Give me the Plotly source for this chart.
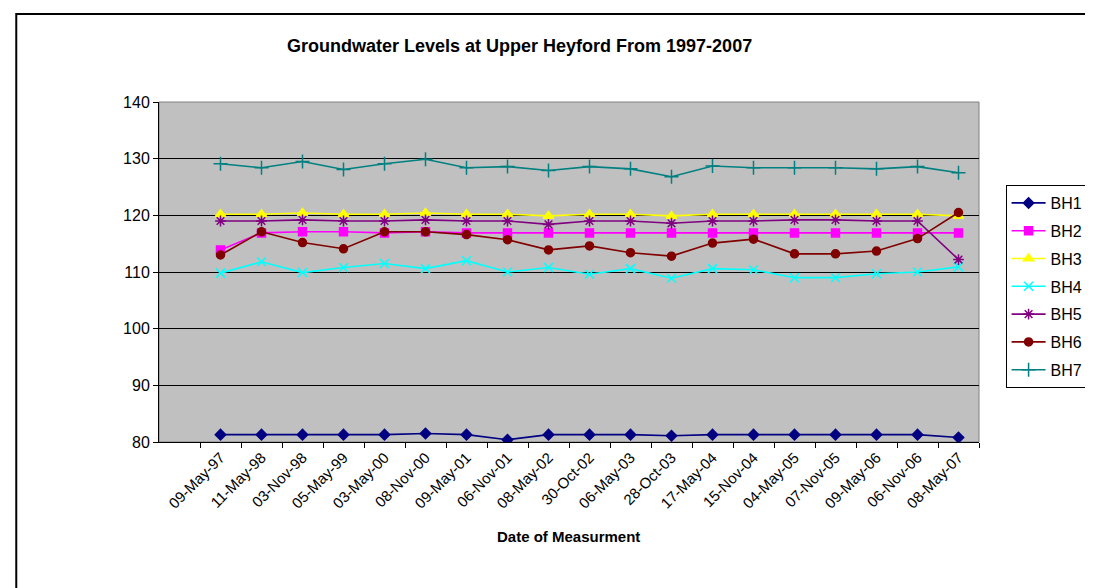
import plotly.graph_objects as go

dates = ["09-May-97", "11-May-98", "03-Nov-98", "05-May-99", "03-May-00", "08-Nov-00",
         "09-May-01", "06-Nov-01", "08-May-02", "30-Oct-02", "06-May-03", "28-Oct-03",
         "17-May-04", "15-Nov-04", "04-May-05", "07-Nov-05", "09-May-06", "06-Nov-06",
         "08-May-07"]

bh1 = [81.3, 81.3, 81.3, 81.3, 81.3, 81.5, 81.3, 80.4, 81.3, 81.3, 81.3, 81.1, 81.3,
       81.3, 81.3, 81.3, 81.3, 81.3, 80.8]
bh2 = [113.9, 116.9, 117.1, 117.1, 116.9, 117.1, 116.9, 116.9, 116.9, 116.9, 116.9, 116.9,
       116.9, 116.9, 116.9, 116.9, 116.9, 116.9, 116.9]
bh3 = [120.2, 120.2, 120.4, 120.2, 120.2, 120.4, 120.2, 120.2, 119.9, 120.2, 120.2, 119.9,
       120.2, 120.2, 120.2, 120.2, 120.2, 120.2, 119.9]
bh4 = [109.8, 111.8, 109.9, 110.8, 111.5, 110.6, 112.0, 110.0, 110.8, 109.6, 110.6, 108.9,
       110.6, 110.4, 109.0, 109.0, 109.7, 110.0, 110.9]
bh5 = [119.0, 119.0, 119.2, 119.0, 119.0, 119.2, 119.0, 119.0, 118.4, 119.0, 119.0, 118.6,
       119.0, 119.0, 119.2, 119.2, 119.0, 119.0, 112.2]
bh6 = [113.0, 117.1, 115.2, 114.1, 117.1, 117.1, 116.6, 115.7, 113.9, 114.6, 113.4, 112.8,
       115.1, 115.8, 113.2, 113.2, 113.7, 115.9, 120.5]
bh7 = [129.1, 128.4, 129.5, 128.1, 129.1, 129.9, 128.4, 128.6, 127.9, 128.6, 128.2, 126.8,
       128.7, 128.4, 128.4, 128.4, 128.2, 128.6, 127.5]

series_names = ["BH1", "BH2", "BH3", "BH4", "BH5", "BH6", "BH7"]
series_values = [bh1, bh2, bh3, bh4, bh5, bh6, bh7]
colors = ["#000080", "#FF00FF", "#FFFF00", "#00FFFF", "#800080", "#800000", "#008080"]
symbols = ["diamond", "square", "triangle-up", "x-thin-open", "asterisk-open", "circle",
           "cross-thin-open"]
sizes = [8, 8, 9, 9, 9, 8, 10]

FONT = "Liberation Sans, Arial, sans-serif"

# plot area in pixels
L, R, T, B = 151, 984, 94, 434
W, H = 1093, 588
pw, ph = R - L, B - T


def px(x):
    return (x - L) / pw


def py(y):
    return (B - y) / ph


fig = go.Figure()
for i, (name, vals) in enumerate(zip(series_names, series_values)):
    fig.add_trace(go.Scatter(
        x=dates, y=vals, name=name, mode="lines+markers",
        legendgroup=name,
        line=dict(color=colors[i], width=1.6),
        marker=dict(symbol=symbols[i], size=sizes[i], color=colors[i],
                    line=dict(color=colors[i], width=1.5)),
    ))

fig.update_layout(
    width=W, height=H,
    margin=dict(l=L, r=W - R, t=T, b=H - B),
    paper_bgcolor="white",
    plot_bgcolor="#C0C0C0",
    font=dict(family=FONT, color="black", size=16),
    showlegend=True,
    legend=dict(
        x=px(1011), y=py(177), xanchor="left", yanchor="top",
        bordercolor="black", borderwidth=1, bgcolor="white",
        font=dict(family=FONT, size=16, color="black"),
        tracegroupgap=4, traceorder="grouped",
        itemwidth=34,
    ),
    xaxis=dict(
        type="category", categoryorder="array", categoryarray=dates,
        range=[-1.5, 18.5], tickson="boundaries",
        ticks="outside", ticklen=5, tickcolor="black", tickwidth=1,
        showline=True, linecolor="black", linewidth=1,
        showgrid=False, zeroline=False,
        tickangle=-45, tickfont=dict(family=FONT, size=15, color="black"),
    ),
    yaxis=dict(
        range=[80, 140], dtick=10, tick0=80,
        ticks="outside", ticklen=5, tickcolor="black", tickwidth=1,
        showline=True, linecolor="black", linewidth=1,
        showgrid=True, gridcolor="black", gridwidth=1, zeroline=False,
        tickfont=dict(family=FONT, size=16, color="black"),
    ),
    shapes=[
        # plot area border (top/right grey)
        dict(type="rect", xref="paper", yref="paper", x0=0, x1=1, y0=0, y1=1,
             line=dict(color="#808080", width=1), fillcolor="rgba(0,0,0,0)", layer="below"),
        # outer chart frame
        dict(type="rect", xref="paper", yref="paper",
             x0=px(6), x1=px(1110), y0=py(600), y1=py(6),
             line=dict(color="black", width=2), fillcolor="rgba(0,0,0,0)", layer="below"),
    ],
    annotations=[
        dict(text="<b>Groundwater Levels at Upper Heyford From 1997-2007</b>",
             xref="paper", yref="paper", x=px(517), y=py(38),
             xanchor="center", yanchor="middle", showarrow=False,
             font=dict(family=FONT, size=18, color="black")),
        dict(text="<b>Date of Measurment</b>",
             xref="paper", yref="paper", x=px(567), y=py(528),
             xanchor="center", yanchor="middle", showarrow=False,
             font=dict(family=FONT, size=15, color="black")),
    ],
)

fig.write_html("out.html")
